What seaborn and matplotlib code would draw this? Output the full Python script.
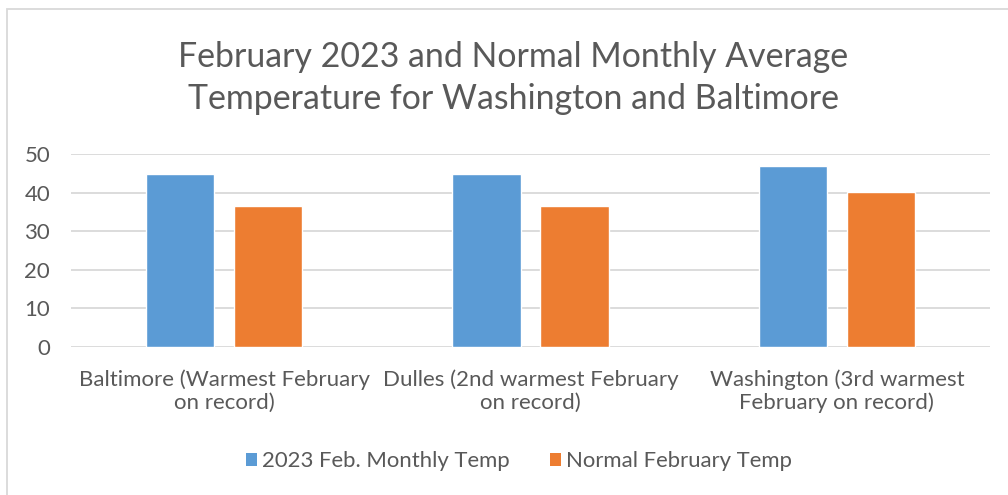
import pandas as pd
import matplotlib
matplotlib.use("Agg")
import matplotlib.pyplot as plt
import seaborn as sns
from matplotlib.patches import Rectangle, Patch

# Data
stations = ["Baltimore (Warmest February\non record)",
            "Dulles (2nd warmest February\non record)",
            "Washington (3rd warmest\nFebruary on record)"]
feb_2023 = [44.8, 44.7, 46.9]
normal_feb = [36.5, 36.4, 40.1]
series = ["2023 Feb. Monthly Temp", "Normal February Temp"]
yticks = [0, 10, 20, 30, 40, 50]

df = pd.DataFrame({
    "Station": stations * 2,
    "Series": [series[0]] * 3 + [series[1]] * 3,
    "Temp": feb_2023 + normal_feb,
})

sns.set_theme(style="white")
plt.rcParams["font.family"] = ["Lato", "DejaVu Sans"]
text_col = "#595959"
colors = ["#5B9BD5", "#ED7D31"]

fig = plt.figure(figsize=(10.08, 4.95), dpi=100)
ax = fig.add_axes([71 / 1008, 1 - 346.7 / 495, (990 - 71) / 1008, (346.7 - 154) / 495])

sns.barplot(data=df, x="Station", y="Temp", hue="Series", palette=colors,
            width=0.575, gap=0.225, saturation=1, ax=ax, legend=False, zorder=3)

ax.set_ylim(0, 50)
ax.set_xlim(-0.5, 2.5)
ax.set_yticks(yticks)
ax.grid(axis="y", color="#D9D9D9", linewidth=1.3, zorder=0)
ax.set_axisbelow(True)
for s in ax.spines.values():
    s.set_visible(False)
ax.tick_params(axis="both", length=0, colors=text_col, labelsize=16)
ax.tick_params(axis="y", pad=15)
ax.tick_params(axis="x", pad=16)
for lbl in ax.get_xticklabels():
    lbl.set_linespacing(1.2)
ax.set_xlabel("")
ax.set_ylabel("")

fig.text(0.509, 1 - 78 / 495,
         "February 2023 and Normal Monthly Average\nTemperature for Washington and Baltimore",
         ha="center", va="center", fontsize=24.4, color=text_col, linespacing=1.42)

handles = [Patch(facecolor=c, edgecolor="none") for c in colors]
fig.legend(handles, series, loc="center", bbox_to_anchor=(0.515, 1 - 461 / 495),
           ncol=2, frameon=False, fontsize=15.9, labelcolor=text_col,
           handlelength=0.5, handleheight=0.55, handletextpad=0.25, columnspacing=1.8)

# chart frame (left and top edges visible)
fig.patches.append(Rectangle((7 / 1008, -0.1), 1.2, 1 - 9 / 495 + 0.1,
                             transform=fig.transFigure, fill=False,
                             edgecolor="#D9D9D9", linewidth=1.3))

fig.savefig("out.png", dpi=100)
